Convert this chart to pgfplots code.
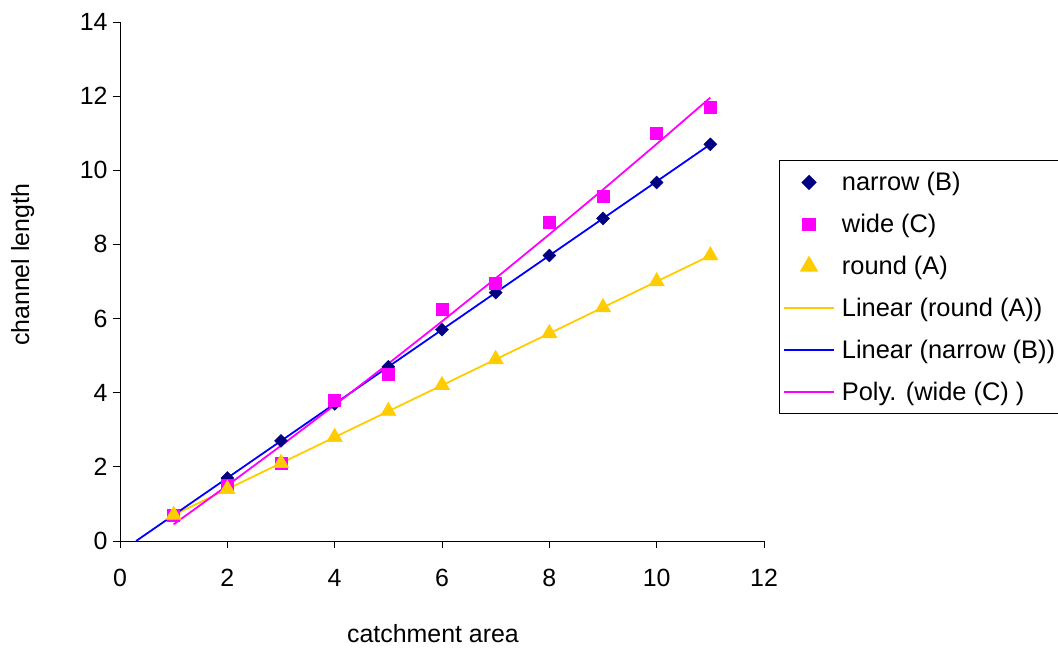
\documentclass[border=0pt]{standalone}
\usepackage{pgfplots}
\pgfplotsset{compat=1.18}
\usepackage{fontspec}
\setmainfont{Liberation Sans}
\definecolor{navyB}{HTML}{000080}
\definecolor{magC}{HTML}{FF00FF}
\definecolor{goldA}{HTML}{FFCC00}
\begin{document}
\begin{tikzpicture}[x=1bp,y=1bp]
\useasboundingbox (-120,-107) rectangle (938,541);
\begin{axis}[
  at={(0,0)}, anchor=south west,
  scale only axis, width=644bp, height=519bp,
  xmin=0, xmax=12, ymin=0, ymax=14,
  xtick={0,2,...,12}, ytick={0,2,...,14},
  axis x line*=bottom, axis y line*=left,
  axis line style={line width=0.9bp},
  tick align=outside, major tick length=7bp,
  tick style={line width=0.9bp, black},
  /pgf/number format/assume math mode=true,
  ticklabel style={font=\fontsize{25}{30}\selectfont},
  xticklabel style={yshift=-18bp},
  yticklabel style={xshift=-2bp},
  label style={font=\fontsize{25}{30}\selectfont},
  xlabel={catchment area},
  xlabel style={at={(axis description cs:0.486,-0.1965)}, anchor=base},
  ylabel={channel length},
  ylabel style={at={(axis description cs:-0.1413,0.532)}, anchor=base},
  legend cell align=left,
  legend style={at={(rel axis cs:1.023,0.734)}, anchor=north west,
    draw=black, line width=0.8bp, inner xsep=4bp, inner ysep=9bp,
    font=\fontsize{25.5}{30}\selectfont,
    nodes={inner sep=3bp}, row sep=16bp},
  legend image code/.code={\draw[mark repeat=2,mark phase=2,line width=1.6bp] plot coordinates {(0bp,0bp) (25bp,0bp) (50bp,0bp)};\path (54bp,0bp);},
]
\addplot[only marks, mark=square*, mark size=4.6bp, mark options={rotate=45, fill=navyB, draw=navyB}, color=navyB]
  coordinates {(1,0.7) (2,1.7) (3,2.7) (4,3.7) (5,4.7) (6,5.7) (7,6.7) (8,7.7) (9,8.7) (10,9.67) (11,10.7)};
\addlegendentry{narrow (B)}
\addplot[only marks, mark=square*, mark size=6bp, mark options={fill=magC, draw=magC}, color=magC]
  coordinates {(1,0.7) (2,1.5) (3,2.1) (4,3.8) (5,4.5) (6,6.25) (7,6.95) (8,8.6) (9,9.3) (10,11.0) (11,11.7)};
\addlegendentry{wide (C)}
\addplot[only marks, mark=triangle*, mark size=9bp, mark options={fill=goldA, draw=goldA}, color=goldA]
  coordinates {(1,0.7) (2,1.4) (3,2.1) (4,2.8) (5,3.5) (6,4.2) (7,4.9) (8,5.6) (9,6.3) (10,7.0) (11,7.7)};
\addlegendentry{round (A)}
\addplot[color=goldA, line width=1.8bp, no marks] coordinates {(1,0.7) (11,7.7)};
\addlegendentry{Linear (round (A))}
\addplot[color=blue, line width=1.8bp, no marks] coordinates {(0.3,0) (11,10.7)};
\addlegendentry{Linear (narrow (B))}
\addplot[color=magC, line width=1.8bp, no marks] coordinates {(1,0.448) (2,1.498) (3,2.571) (4,3.666) (5,4.784) (6,5.924) (7,7.086) (8,8.271) (9,9.479) (10,10.709) (11,11.96)};
\addlegendentry{Poly. (wide (C) )}
\end{axis}
\end{tikzpicture}
\end{document}
